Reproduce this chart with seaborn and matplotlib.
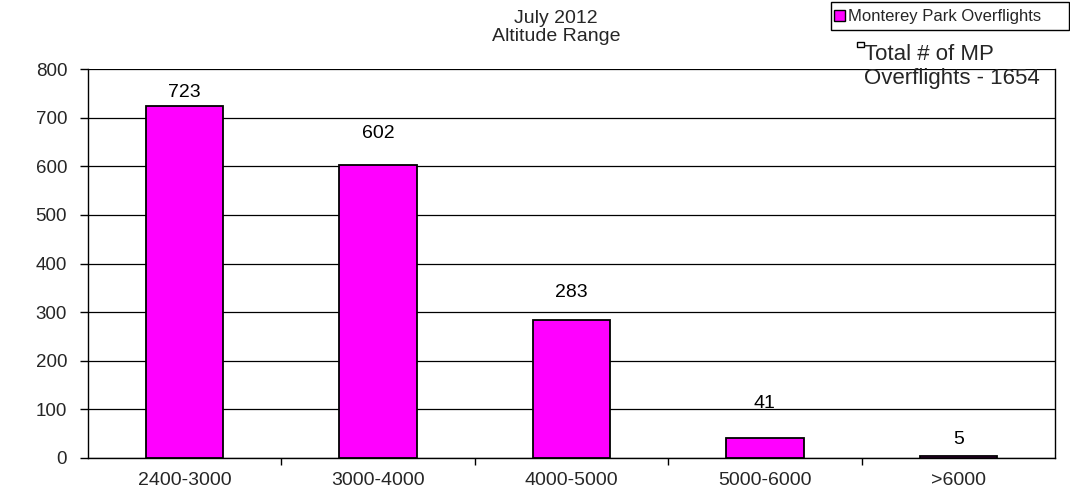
import matplotlib
matplotlib.use("Agg")
import matplotlib.pyplot as plt
import matplotlib.patches as mpatches
import seaborn as sns
import pandas as pd

categories = ["2400-3000", "3000-4000", "4000-5000", "5000-6000", ">6000"]
overflights = [723, 602, 283, 41, 5]
y_ticks = [0, 100, 200, 300, 400, 500, 600, 700, 800]
series_name = "Monterey Park Overflights"
total_note = "Total # of MP\nOverflights - 1654"
title = "July 2012\nAltitude Range"
label_pad = [7, 19.5, 16.5, 21.5, 8.5]  # points between bar top and label baseline

sns.set_theme(style="white")
plt.rcParams['font.family'] = ['Liberation Sans', 'DejaVu Sans']

df = pd.DataFrame({"range": categories, "count": overflights})

W, H = 1070, 492
fig = plt.figure(figsize=(W / 100, H / 100), dpi=100)
ax = fig.add_axes([88/W, 1 - 458/H, (1055-88)/W, (458-69)/H])

sns.barplot(data=df, x="range", y="count", ax=ax, color="#FF00FF",
            edgecolor="black", linewidth=1.3, width=0.40, saturation=1, zorder=3)

ax.set_ylim(0, 800)
ax.set_xlim(-0.5, len(categories) - 0.5)
ax.set_yticks(y_ticks)
ax.yaxis.grid(True, color="black", linewidth=0.9, zorder=0)
ax.set_axisbelow(True)
ax.set_xlabel("")
ax.set_ylabel("")
for s in ["left", "bottom", "right"]:
    ax.spines[s].set_visible(True)
    ax.spines[s].set_color("black")
    ax.spines[s].set_linewidth(1.0)
ax.spines["top"].set_visible(False)

ax.tick_params(axis="y", which="both", left=True, length=6, width=1, color="black",
               labelsize=13.5, pad=9)
ax.set_xticks(range(len(categories)))
ax.set_xticklabels(categories, fontsize=14)
ax.tick_params(axis="x", which="major", bottom=False, labelsize=14, pad=4)
ax.set_xticks([i + 0.5 for i in range(len(categories) - 1)], minor=True)
ax.tick_params(axis="x", which="minor", bottom=True, length=5, width=1, color="black")

for bar, val, pad in zip(ax.patches, overflights, label_pad):
    ax.annotate(str(val), (bar.get_x() + bar.get_width() / 2, bar.get_height()),
                xytext=(0, pad), textcoords="offset points",
                ha="center", va="baseline", fontsize=14, color="black")

fig.text(556/W, 1 - 10/H, title, ha="center", va="top", fontsize=14,
         linespacing=1.05)

# legend box
fig.patches.append(mpatches.Rectangle((831/W, 1 - 30/H), (1069-831)/W, 28/H,
                                      transform=fig.transFigure, facecolor="white",
                                      edgecolor="black", linewidth=1.0, zorder=4))
handle = mpatches.Patch(facecolor="#FF00FF", edgecolor="black", linewidth=1.0,
                        label=series_name)
leg = fig.legend(handles=[handle], loc="center left",
                 bbox_to_anchor=(831/W, 1 - 17/H), fontsize=12,
                 frameon=False, handlelength=0.62, handleheight=0.62,
                 handletextpad=0.2, borderpad=0.0, borderaxespad=0.2)
leg.set_zorder(5)

fig.patches.append(mpatches.Rectangle((857/W, 1 - 47/H), 7/W, 5/H,
                                      transform=fig.transFigure, facecolor="white",
                                      edgecolor="black", linewidth=1.0, zorder=5))
fig.text(864/W, 1 - 44/H, total_note, ha="left", va="top", fontsize=16,
         linespacing=1.2, zorder=6)

fig.savefig("out.png", dpi=100)
